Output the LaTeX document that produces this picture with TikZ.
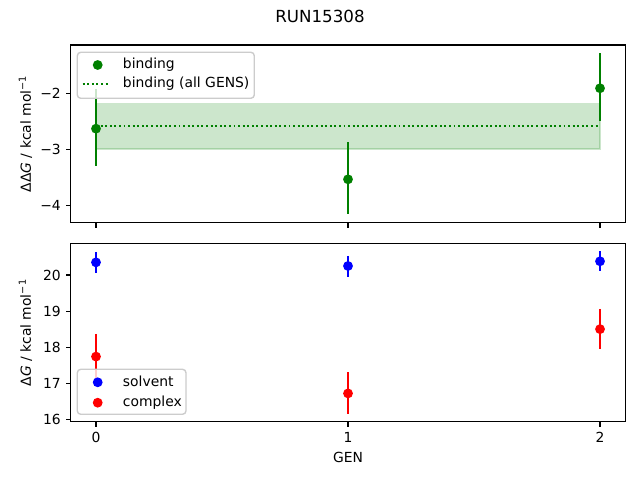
\documentclass[tikz,border=0pt]{standalone}
\usepackage{fontspec}
\setmainfont{DejaVu Sans}
\definecolor{mgreen}{RGB}{0,128,0}
\definecolor{mblue}{RGB}{0,0,255}
\definecolor{mred}{RGB}{255,0,0}
\definecolor{legedge}{gray}{0.8}
\begin{document}
\begin{tikzpicture}[x=0.72bp,y=0.72bp,
  font=\fontsize{10bp}{12bp}\selectfont,
  spine/.style={line width=0.8bp, draw=black},
  tickmark/.style={line width=0.8bp, draw=black},
  ticklabel/.style={inner sep=0pt},
  ebar/.style={line width=1.5bp},
  mdot/.style={circle, fill=#1, draw=#1, line width=1bp, inner sep=0pt, minimum size=6bp},
  legbox/.style={draw=legedge, line width=1bp, fill=white, fill opacity=0.8, rounded corners=2.5bp},
  legtext/.style={anchor=west, inner sep=0pt},
  mdotted/.style={mgreen, line width=1.5bp, dash pattern=on 1.4bp off 1.9bp},
]
\useasboundingbox (0,0) rectangle (640,480);

% title
\node[font=\fontsize{12bp}{14bp}\selectfont] (title) at (320,464) {RUN15308};

% ---------------- top axes ----------------
\begin{scope}[shift={(69.12bp,359.06bp)}, x=181.44bp, y=40.32bp]
  \fill[mgreen, opacity=0.2] (0,-2.995) rectangle (2,-2.185);
  \draw[mgreen, opacity=0.2, line width=1bp] (0,-2.995) rectangle (2,-2.185);
  \draw[mdotted] (0,-2.584) -- (2,-2.584);
  % error bars
  \draw[ebar, mgreen] (0,-1.93) -- (0,-3.29);
  \draw[ebar, mgreen] (1,-2.875) -- (1,-4.16);
  \draw[ebar, mgreen] (2,-1.286) -- (2,-2.495);
  \node[mdot=mgreen] (b0) at (0,-2.632) {};
  \node[mdot=mgreen] (b1) at (1,-3.536) {};
  \node[mdot=mgreen] (b2) at (2,-1.91) {};
  % frame
  \draw[spine] (-0.1,-4.3105) rectangle (2.1,-1.137);
  % y ticks
  \foreach \v/\t in {-2/−2,-3/−3,-4/−4}{
    \draw[tickmark] (-0.1,\v) -- ++(-3.5bp,0);
    \node[ticklabel, anchor=east, xshift=-7bp] at (-0.1,\v) {\t};
  }
  % x ticks (no labels)
  \foreach \u in {0,1,2}{
    \draw[tickmark] (\u,-4.3105) -- ++(0,-3.5bp);
  }
\end{scope}

% ---------------- bottom axes ----------------
\begin{scope}[shift={(69.12bp,-372.24bp)}, x=181.44bp, y=25.992bp]
  % solvent
  \draw[ebar, mblue] (0,20.64) -- (0,20.06);
  \draw[ebar, mblue] (1,20.53) -- (1,19.95);
  \draw[ebar, mblue] (2,20.66) -- (2,20.12);
  \node[mdot=mblue] (s0) at (0,20.35) {};
  \node[mdot=mblue] (s1) at (1,20.25) {};
  \node[mdot=mblue] (s2) at (2,20.38) {};
  % complex
  \draw[ebar, mred] (0,18.37) -- (0,17.11);
  \draw[ebar, mred] (1,17.31) -- (1,16.16);
  \draw[ebar, mred] (2,19.06) -- (2,17.96);
  \node[mdot=mred] (c0) at (0,17.74) {};
  \node[mdot=mred] (c1) at (1,16.72) {};
  \node[mdot=mred] (c2) at (2,18.5) {};
  % frame
  \draw[spine] (-0.1,15.93) rectangle (2.1,20.867);
  \foreach \v in {16,17,18,19,20}{
    \draw[tickmark] (-0.1,\v) -- ++(-3.5bp,0);
    \node[ticklabel, anchor=east, xshift=-7bp] at (-0.1,\v) {\v};
  }
  \foreach \u in {0,1,2}{
    \draw[tickmark] (\u,15.93) -- ++(0,-3.5bp);
    \node[ticklabel, anchor=north, yshift=-7bp] at (\u,15.93) {\u};
  }
\end{scope}

% axis labels
\node[rotate=90] (ylab1) at (25.5,346.1) {ΔΔ\textit{G} / kcal mol\textsuperscript{−1}};
\node[rotate=90] (ylab2) at (25.5,147.3) {Δ\textit{G} / kcal mol\textsuperscript{−1}};
\node (xlab) at (348,22.7) {GEN};

% ---------------- legends ----------------
\draw[legbox] (77.3,381.7) rectangle (254.3,427.7);
\node[mdot=mgreen] (lg1) at (97.7,415) {};
\coordinate (lgA) at (82.7,395.7);
\coordinate (lgB) at (110,395.7);
\draw[mdotted] (lgA) -- (lgB);
\node[legtext] (lt1) at (122.7,415.5) {binding};
\node[legtext] (lt2) at (122.7,396.5) {binding (all GENS)};

\draw[legbox] (77.3,65.7) rectangle (186,110.7);
\node[mdot=mblue] (lg2) at (97.7,97.7) {};
\node[mdot=mred] (lg3) at (97.7,77.3) {};
\node[legtext] (lt3) at (122.7,98.5) {solvent};
\node[legtext] (lt4) at (122.7,77.5) {complex};
\end{tikzpicture}
\end{document}
